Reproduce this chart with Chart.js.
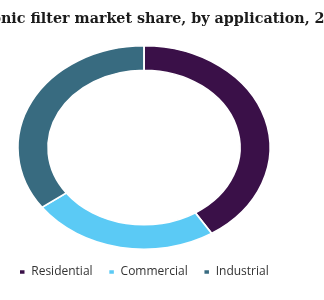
<!DOCTYPE html>
<html>
<head>
<meta charset="utf-8">
<script src="https://cdn.jsdelivr.net/npm/chart.js@4"></script>
<style>
	html, body { margin: 0; padding: 0; background: #fff; }
	#wrap { position: relative; width: 324px; height: 300px; overflow: hidden; }
	#title {
		position: absolute; top: 10px; left: 0;
		white-space: nowrap;
		font: bold 14.3px "DejaVu Serif", serif;
		color: #1b1b1b;
	}
	canvas { position: absolute; left: 0; top: 0; }
</style>
</head>
<body>
<div id="wrap">
	<canvas id="shareChart" width="324" height="300"></canvas>
	<div id="title"><span id="pre">Harmo</span>nic filter market share, by application, 2019 (%)</div>
</div>
<script>
const categories = ['Residential', 'Commercial', 'Industrial'];
const shares = [41, 24, 35]; // % read from the ring
const colors = ['#3a1048', '#5bcaf5', '#386b80'];

// the reference ring is wider than it is tall
const stretchX = 1.24;

// shift the title so the visible part starts like the reference crop
const pre = document.getElementById('pre');
document.getElementById('title').style.left = (-pre.offsetWidth + 1) + 'px';

const ellipse = {
	id: 'ellipse',
	beforeDatasetsDraw(chart) {
		const arc = chart.getDatasetMeta(0).data[0];
		const ctx = chart.ctx;
		ctx.save();
		ctx.translate(arc.x, arc.y);
		ctx.scale(stretchX, 1);
		ctx.translate(-arc.x, -arc.y);
	},
	afterDatasetsDraw(chart) {
		chart.ctx.restore();
	},
};

const ctx = document.getElementById('shareChart').getContext('2d');

new Chart(ctx, {
	type: 'doughnut',
	data: {
		labels: categories,
		datasets: [
			{
				data: shares,
				backgroundColor: colors,
				borderColor: '#ffffff',
				borderWidth: 1.5,
			},
		],
	},
	options: {
		responsive: false,
		animation: false,
		cutout: '76%',
		layout: {
			padding: { top: 45, right: 36, bottom: 12, left: 0 },
		},
		plugins: {
			legend: {
				position: 'bottom',
				labels: {
					boxWidth: 6,
					boxHeight: 5,
					padding: 16,
					color: '#333333',
					font: { family: '"Open Sans", sans-serif', size: 12 },
				},
			},
			tooltip: { enabled: false },
		},
	},
	plugins: [ellipse],
});
</script>
</body>
</html>
